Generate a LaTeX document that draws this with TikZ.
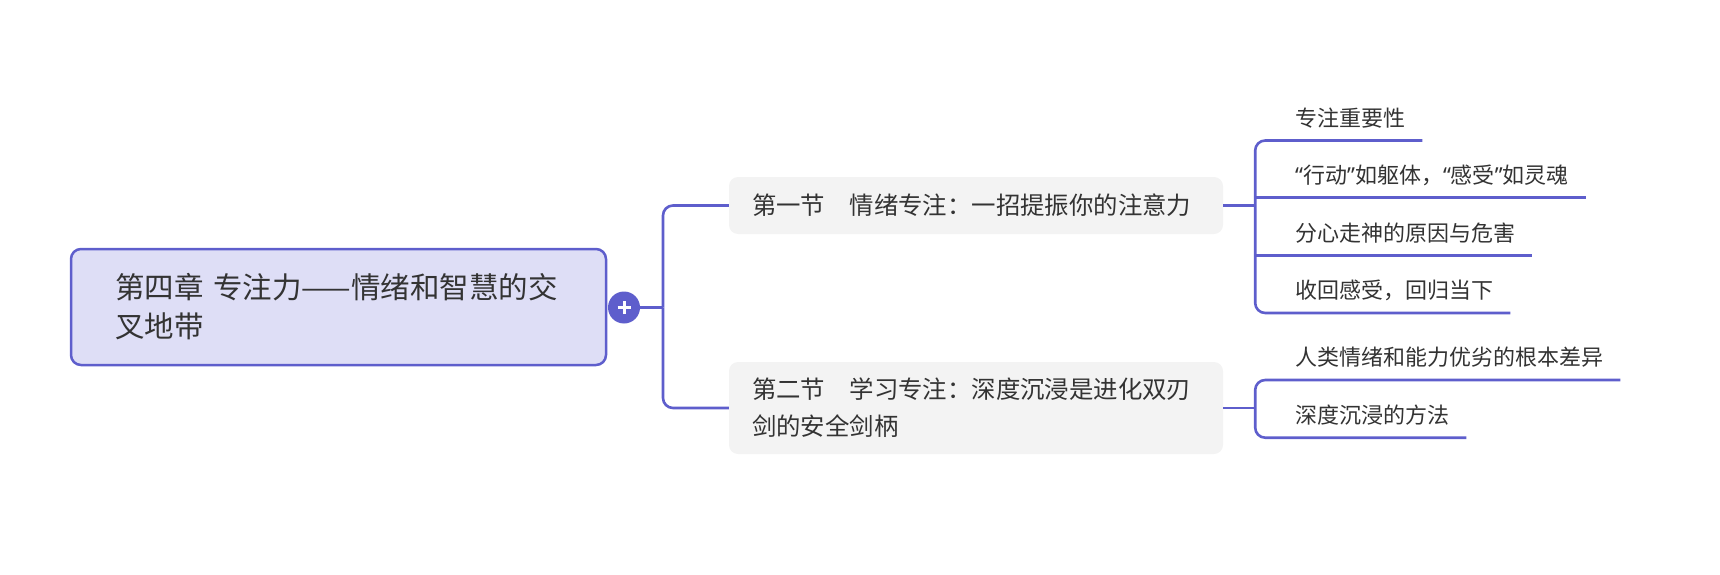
\documentclass[tikz,border=0pt]{standalone}
\usepackage{fontspec}
\setmainfont{Noto Sans CJK SC}
\newfontfamily\quotefont{Noto Sans}
\newcommand{\openq}{{\quotefont “}}
\newcommand{\closeq}{{\quotefont ”}}
\definecolor{mmline}{HTML}{5E5ECC}
\definecolor{mmroot}{HTML}{DEDEF6}
\definecolor{mmnode}{HTML}{F3F3F3}
\definecolor{mmtext}{HTML}{333333}
\begin{document}
\begin{tikzpicture}[x=1pt,y=-1pt,
    chapter/.style={fill=mmroot,draw=mmline,line width=2.5pt,rounded corners=10pt,inner xsep=44pt,text width=447pt,minimum height=116pt,align=left,text=mmtext,font=\fontsize{29.5}{39}\selectfont},
    section/.style={fill=mmnode,rounded corners=9pt,inner xsep=23pt,text width=448pt,align=left,text=mmtext,font=\fontsize{24.4}{37}\selectfont},
    topic/.style={anchor=south west,inner xsep=17pt,inner ysep=8pt,text height=17pt,text depth=6pt,text=mmtext,font=\fontsize{22}{26}\selectfont},
    branch/.style={draw=mmline,line width=2.6pt,rounded corners=10pt}]
  \useasboundingbox (0,0) rectangle (1720,575);
  \node[chapter] (root) at (338.5,307) {第四章 专注力——情绪和智慧的交\\叉地带};
  \node[circle,fill=mmline,minimum size=32pt,inner sep=0pt] (plus) at (624,307.5) {};
  \draw[white,line width=3pt] ([xshift=-6.5pt]plus.center) -- ([xshift=6.5pt]plus.center)
    ([yshift=-6.5pt]plus.center) -- ([yshift=6.5pt]plus.center);
  \node[section,minimum height=57pt] (s1) at (976,205.5) {第一节　情绪专注：一招提振你的注意力};
  \node[section,minimum height=92pt] (s2) at (976,408) {第二节　学习专注：深度沉浸是进化双刃\\剑的安全剑柄};
  \node[topic] (t1) at (1278,140.5) {专注重要性};
  \node[topic] (t2) at (1278,197.7) {\openq 行动\closeq 如躯体，\openq 感受\closeq 如灵魂};
  \node[topic] (t3) at (1278,255.7) {分心走神的原因与危害};
  \node[topic] (t4) at (1278,313) {收回感受，回归当下};
  \node[topic] (u1) at (1278,380) {人类情绪和能力优劣的根本差异};
  \node[topic] (u2) at (1278,437.7) {深度沉浸的方法};
  \coordinate (j) at (663,307.5);
  \coordinate (b1) at ([xshift=32pt]s1.east);
  \coordinate (b2) at ([xshift=32pt]s2.east);
  \draw[branch] (plus.east) -- (j);
  \draw[branch] (j) |- (s1.west);
  \draw[branch] (j) |- (s2.west);
  \draw[branch] (s1.east) -- (b1);
  \draw[branch] (t1.south east) -- (t1.south -| b1) -- (t4.south -| b1) -- (t4.south east);
  \draw[branch] (t2.south -| b1) -- (t2.south east);
  \draw[branch] (t3.south -| b1) -- (t3.south east);
  \draw[branch] (s2.east) -- (b2);
  \draw[branch] (u1.south east) -- (u1.south -| b2) -- (u2.south -| b2) -- (u2.south east);
\end{tikzpicture}
\end{document}
